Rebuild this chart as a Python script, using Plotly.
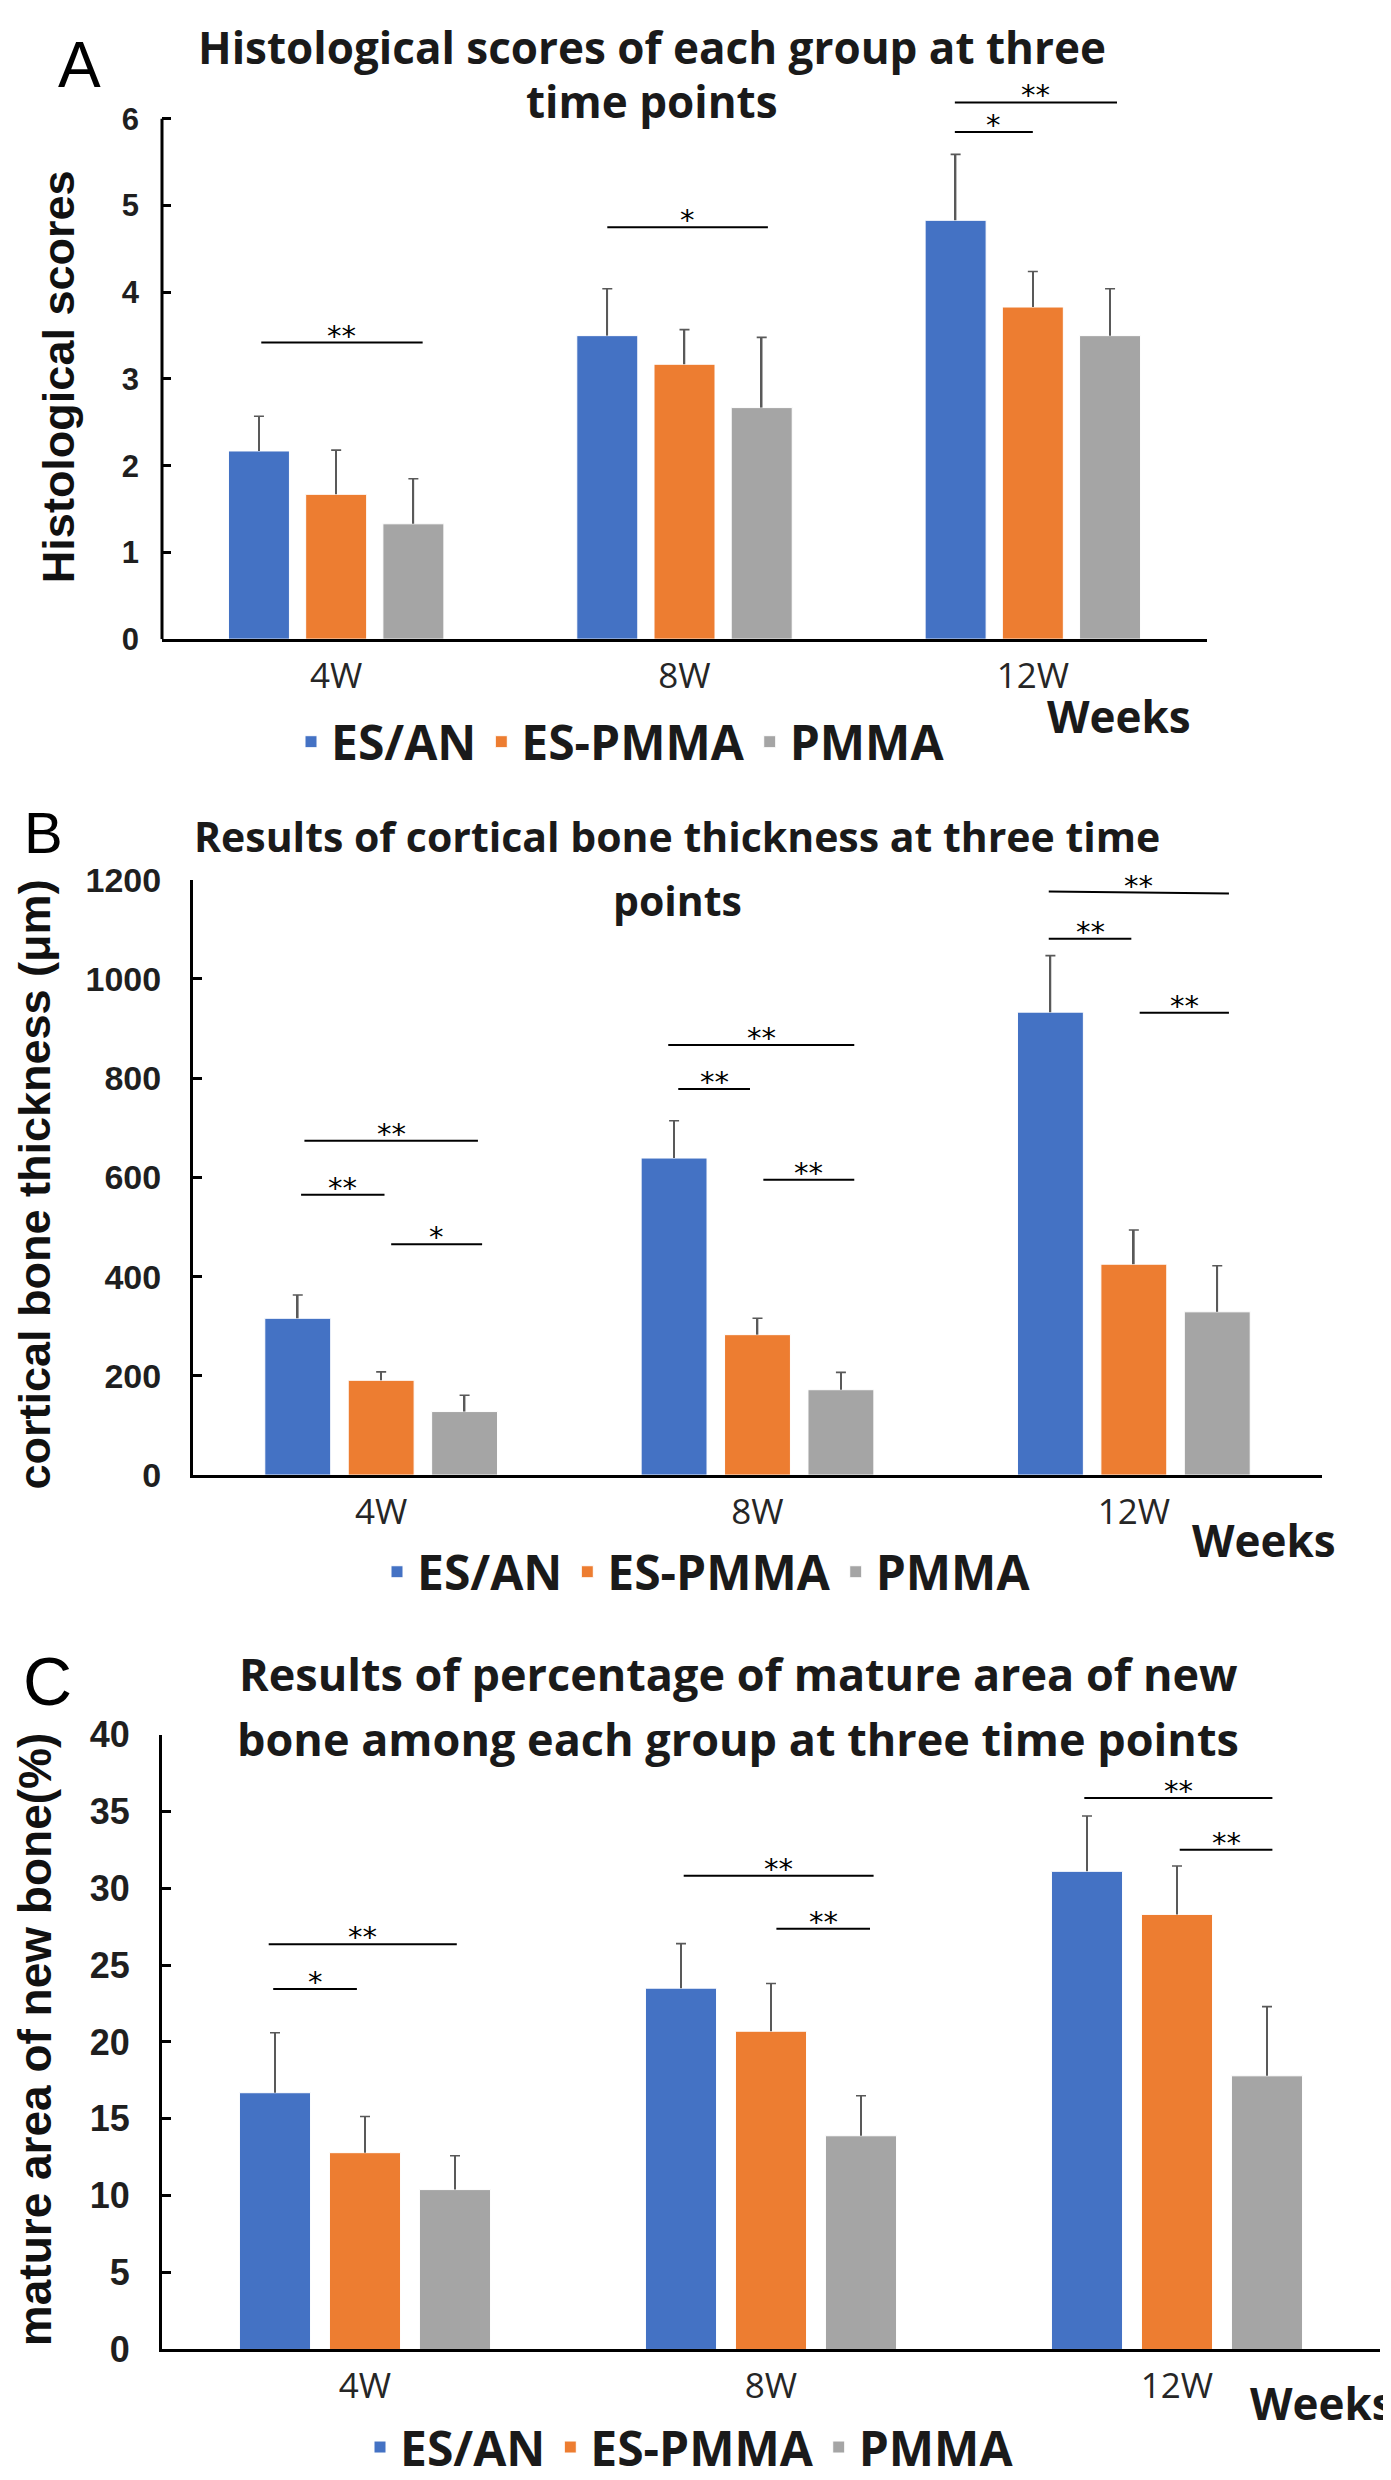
import plotly.graph_objects as go

W, H = 1391, 2480

# ---------------- data ----------------
categories = ["4W", "8W", "12W"]
groups = ["ES/AN", "ES-PMMA", "PMMA"]
colors = ["#4472C4", "#ED7D31", "#A5A5A5"]

# Panel A: histological scores
hist_esan = [2.17, 3.50, 4.83]
hist_espmma = [1.67, 3.17, 3.83]
hist_pmma = [1.33, 2.67, 3.50]
hist_esan_sd = [0.40, 0.54, 0.76]
hist_espmma_sd = [0.51, 0.40, 0.41]
hist_pmma_sd = [0.52, 0.81, 0.54]

# Panel B: cortical bone thickness (um)
cort_esan = [316, 639, 933]
cort_espmma = [191, 283, 425]
cort_pmma = [128, 172, 329]
cort_esan_sd = [47, 75, 114]
cort_espmma_sd = [17, 33, 69]
cort_pmma_sd = [33, 35, 93]

# Panel C: mature area of new bone (%)
mat_esan = [16.7, 23.5, 31.1]
mat_espmma = [12.8, 20.7, 28.3]
mat_pmma = [10.4, 13.9, 17.8]
mat_esan_sd = [3.9, 2.9, 3.6]
mat_espmma_sd = [2.35, 3.1, 3.15]
mat_pmma_sd = [2.2, 2.6, 4.5]

# significance brackets: (category index, start slot, end slot, y start, y end, label)
hist_sig = [(0, -0.97, 1.12, 3.42, 3.42, "**"), (1, -1.0, 1.08, 4.75, 4.75, "*"),
            (2, -1.01, 0.0, 5.85, 5.85, "*"), (2, -1.01, 1.09, 6.19, 6.19, "**")]
cort_sig = [(0, -0.92, 1.16, 674, 674, "**"), (0, -0.96, 0.04, 565, 565, "**"),
            (0, 0.12, 1.21, 465, 465, "*"), (1, -1.07, 1.16, 867, 867, "**"),
            (1, -0.95, -0.09, 778, 778, "**"), (1, 0.07, 1.16, 595, 595, "**"),
            (2, -1.02, 1.14, 1176, 1172, "**"), (2, -1.02, -0.03, 1081, 1081, "**"),
            (2, 0.07, 1.14, 932, 932, "**")]
mat_sig = [(0, -1.07, 1.02, 26.35, 26.35, "**"), (0, -1.02, -0.09, 23.44, 23.44, "*"),
           (1, -0.97, 1.14, 30.81, 30.81, "**"), (1, 0.06, 1.10, 27.37, 27.37, "**"),
           (2, -1.03, 1.06, 35.87, 35.87, "**"), (2, 0.03, 1.06, 32.5, 32.5, "**")]

hist_ticks = [0, 1, 2, 3, 4, 5, 6]
cort_ticks = [0, 200, 400, 600, 800, 1000, 1200]
mat_ticks = [0, 5, 10, 15, 20, 25, 30, 35, 40]

# ---------------- layout helpers ----------------
BARGAP = 0.335
BARGROUPGAP = 0.21
SLOT = (1 - BARGAP) / 3.0

def px(x):
    return x / W

def py(y):
    return 1 - y / H

TITLE_FONT = "Open Sans"
TICK_FONT = "Liberation Sans, Arial"
DARK = "#1f1f1f"

panels = [
    dict(means=[hist_esan, hist_espmma, hist_pmma], sds=[hist_esan_sd, hist_espmma_sd, hist_pmma_sd],
         sig=hist_sig, ticks=hist_ticks, xpx=(154, 1199), y0px=621.4, ytpx=92.4, rng_top=6.4,
         tickfs=31, letter="A", letter_xy=(71, 0), letter_fs=64,
         title=["Histological scores of each group at three", "time points"],
         title_xy=[(644, 19), (644, 74)], title_fs=44,
         ytitle="Histological scores", ytitle_xy=(50, 355), ytitle_fs=45,
         weeks_xy=(1111, 700), legend_xy=(283, 726), legend="legend"),
    dict(means=[cort_esan, cort_espmma, cort_pmma], sds=[cort_esan_sd, cort_espmma_sd, cort_pmma_sd],
         sig=cort_sig, ticks=cort_ticks, xpx=(185, 1314), y0px=1471.4, ytpx=866.0, rng_top=1200,
         tickfs=34, letter="B", letter_xy=(35, 784), letter_fs=58,
         title=["Results of cortical bone thickness at three time", "points"],
         title_xy=[(669, 822), (669, 887)], title_fs=41,
         ytitle="cortical bone thickness (\u03bcm)", ytitle_xy=(27, 1176), ytitle_fs=45,
         weeks_xy=(1256, 1537), legend_xy=(369, 1570), legend="legend2"),
    dict(means=[mat_esan, mat_espmma, mat_pmma], sds=[mat_esan_sd, mat_espmma_sd, mat_pmma_sd],
         sig=mat_sig, ticks=mat_ticks, xpx=(154, 1372), y0px=2360.5, ytpx=1735.2, rng_top=40,
         tickfs=36, letter="C", letter_xy=(39, 1641), letter_fs=68,
         title=["Results of percentage of mature area of new", "bone among each group at three time points"],
         title_xy=[(730, 1673), (730, 1739)], title_fs=45,
         ytitle="mature area of new bone(%)", ytitle_xy=(27, 2046), ytitle_fs=46,
         weeks_xy=(1314, 2415), legend_xy=(352, 2460), legend="legend3"),
]

fig = go.Figure()
shapes = []
annotations = []
layout_axes = {}

for i, p in enumerate(panels):
    sfx = "" if i == 0 else str(i + 1)
    xa, ya = "x" + sfx, "y" + sfx
    tick_top = p["ticks"][-1]
    scale = (p["y0px"] - p["ytpx"]) / tick_top
    top_px = p["y0px"] - p["rng_top"] * scale

    for g in range(3):
        fig.add_trace(go.Bar(
            x=categories, y=p["means"][g], name=groups[g], offsetgroup=str(g),
            marker=dict(color=colors[g], line=dict(color="white", width=1)),
            xaxis=xa, yaxis=ya, legend=p["legend"], showlegend=True,
        ))
        # upper error bar: thin bar from mean to mean+sd, capped at the top
        fig.add_trace(go.Bar(
            x=categories, y=p["sds"][g], base=p["means"][g], offsetgroup=str(g), width=0.0045,
            marker=dict(color="#595959", line=dict(width=0)),
            error_y=dict(type="data", array=[0, 0, 0], color="#595959", thickness=1.6, width=5),
            xaxis=xa, yaxis=ya, showlegend=False, hoverinfo="skip",
        ))

    layout_axes["xaxis" + sfx] = dict(
        domain=[px(p["xpx"][0]), px(p["xpx"][1])], anchor=ya, type="category",
        range=[-0.5, 2.5], showline=True, linecolor="black", linewidth=3, ticks="",
        showgrid=False, zeroline=False, ticklabelstandoff=4,
        tickfont=dict(family=TITLE_FONT, size=35, color="#262626"),
    )
    extended = p["rng_top"] > tick_top
    layout_axes["yaxis" + sfx] = dict(
        domain=[py(p["y0px"]), py(top_px)], anchor=xa, range=[0, p["rng_top"]],
        tickvals=p["ticks"], ticks="inside", ticklen=9, tickwidth=2.5, tickcolor="black",
        showline=not extended, linecolor="black", linewidth=3, showgrid=False, zeroline=False,
        ticklabelstandoff=22,
        tickfont=dict(family=TICK_FONT, size=p["tickfs"], color=DARK, weight="bold"),
    )
    if extended:
        shapes.append(dict(type="line", xref=xa + " domain", yref=ya, x0=0, x1=0, y0=0, y1=tick_top,
                           line=dict(color="black", width=3)))

    # significance brackets
    for (c, s0, s1, y0, y1, lab) in p["sig"]:
        x0 = c + s0 * SLOT
        x1 = c + s1 * SLOT
        shapes.append(dict(type="line", xref=xa, yref=ya, x0=x0, x1=x1, y0=y0, y1=y1,
                           line=dict(color="black", width=2)))
        annotations.append(dict(xref=xa, yref=ya, x=(x0 + x1) / 2, y=(y0 + y1) / 2, text=lab,
                                showarrow=False, yanchor="middle", yshift=7,
                                font=dict(family="DejaVu Sans", size=29, color="black")))

    # panel letter (anchored by its top edge)
    annotations.append(dict(xref="paper", yref="paper", x=px(p["letter_xy"][0]), y=py(p["letter_xy"][1]),
                            text=p["letter"], showarrow=False, xanchor="center", yanchor="top",
                            borderpad=0,
                            font=dict(family="Liberation Sans", size=p["letter_fs"], color="black")))
    # title lines
    for line, (tx, ty) in zip(p["title"], p["title_xy"]):
        annotations.append(dict(xref="paper", yref="paper", x=px(tx), y=py(ty), text=line,
                                showarrow=False, xanchor="center", yanchor="middle",
                                font=dict(family=TITLE_FONT, size=p["title_fs"], color="#1a1a1a", weight="bold")))
    # y title
    annotations.append(dict(xref="paper", yref="paper", x=px(p["ytitle_xy"][0]), y=py(p["ytitle_xy"][1]),
                            text=p["ytitle"], textangle=-90, showarrow=False, xanchor="center", yanchor="middle",
                            font=dict(family=TICK_FONT, size=p["ytitle_fs"], color="#111111", weight="bold")))
    # Weeks
    annotations.append(dict(xref="paper", yref="paper", x=px(p["weeks_xy"][0]), y=py(p["weeks_xy"][1]),
                            text="Weeks", showarrow=False, xanchor="center", yanchor="middle",
                            font=dict(family=TITLE_FONT, size=44, color="#1a1a1a", weight="bold")))
    layout_axes[p["legend"]] = dict(
        orientation="h", x=px(p["legend_xy"][0]), y=py(p["legend_xy"][1]), xanchor="left", yanchor="middle",
        font=dict(family=TITLE_FONT, size=48, color="#1a1a1a", weight="bold"),
        bgcolor="rgba(0,0,0,0)", itemwidth=30, traceorder="normal",
    )

fig.update_layout(
    width=W, height=H, margin=dict(l=0, r=0, t=0, b=0),
    paper_bgcolor="white", plot_bgcolor="white",
    barmode="group", bargap=BARGAP, bargroupgap=BARGROUPGAP,
    shapes=shapes, annotations=annotations, showlegend=True,
    **layout_axes,
)

fig.write_html("out.html")
